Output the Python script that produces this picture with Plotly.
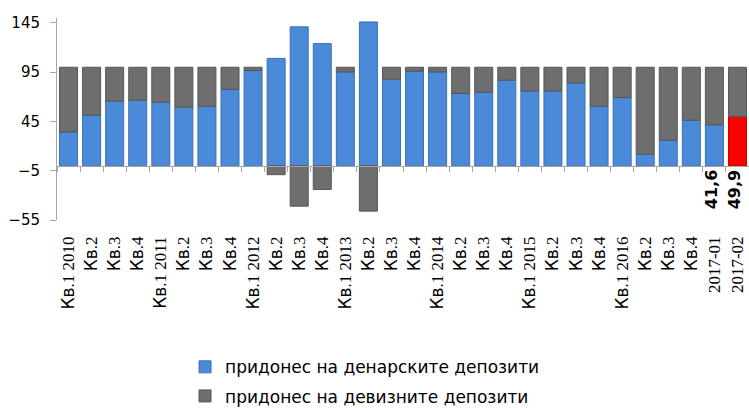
import plotly.graph_objects as go

# Quarterly / monthly periods on the category axis
periods = [
    "Кв.1 2010", "Кв.2 2010", "Кв.3 2010", "Кв.4 2010",
    "Кв.1 2011", "Кв.2 2011", "Кв.3 2011", "Кв.4 2011",
    "Кв.1 2012", "Кв.2 2012", "Кв.3 2012", "Кв.4 2012",
    "Кв.1 2013", "Кв.2 2013", "Кв.3 2013", "Кв.4 2013",
    "Кв.1 2014", "Кв.2 2014", "Кв.3 2014", "Кв.4 2014",
    "Кв.1 2015", "Кв.2 2015", "Кв.3 2015", "Кв.4 2015",
    "Кв.1 2016", "Кв.2 2016", "Кв.3 2016", "Кв.4 2016",
    "2017-01", "2017-02",
]
tick_labels = [
    "Кв.1 2010", "Кв.2", "Кв.3", "Кв.4",
    "Кв.1 2011", "Кв.2", "Кв.3", "Кв.4",
    "Кв.1 2012", "Кв.2", "Кв.3", "Кв.4",
    "Кв.1 2013", "Кв.2", "Кв.3", "Кв.4",
    "Кв.1 2014", "Кв.2", "Кв.3", "Кв.4",
    "Кв.1 2015", "Кв.2", "Кв.3", "Кв.4",
    "Кв.1 2016", "Кв.2", "Кв.3", "Кв.4",
    "2017-01", "2017-02",
]

# Contribution of denar deposits (%)
denar = [34.4, 51.4, 65.6, 66.6, 64.6, 59.5, 60.5, 77.5, 96.7, 109.0,
         141.0, 124.0, 95.3, 146.0, 87.9, 96.0, 95.3, 73.4, 74.7, 86.9,
         76.0, 76.0, 84.2, 60.5, 69.3, 11.8, 26.0, 46.3, 41.6, 49.9]
# Contribution of foreign-currency deposits (%)
foreign = [65.6, 48.6, 34.4, 33.4, 35.4, 40.5, 39.5, 22.5, 3.3, -9.0,
           -41.0, -24.0, 4.7, -46.0, 12.1, 4.0, 4.7, 26.6, 25.3, 13.1,
           24.0, 24.0, 15.8, 39.5, 30.7, 88.2, 74.0, 53.7, 58.4, 50.1]

# Periods whose denar contribution is printed on the chart
labelled = ["2017-01", "2017-02"]

BLUE = "#4A8AD9"
GRAY = "#6E6E6E"
RED = "#FF0000"

denar_colors = [RED if p == "2017-02" else BLUE for p in periods]
denar_lines = ["#C00000" if p == "2017-02" else "#3B6FB3" for p in periods]


def fmt(v):
    return f"{v:.1f}".replace(".", ",")


def tick_text(label):
    # Cyrillic prefix in a sans face, numerals in a serif face
    serif = "<span style='font-family:Liberation Serif'>{}</span>"
    if label.startswith("Кв"):
        return "Кв" + serif.format(label[2:])
    return serif.format(label)


fig = go.Figure()
fig.add_trace(go.Bar(
    x=periods, y=denar, name="придонес на денарските депозити",
    marker=dict(color=denar_colors, line=dict(color=denar_lines, width=1)),
    legendgroup="a",
))
fig.add_trace(go.Bar(
    x=periods, y=foreign, name="придонес на девизните депозити",
    marker=dict(color=GRAY, line=dict(color="#555555", width=1)),
    legendgroup="b",
))
# Carrier for the category line drawn through zero
fig.add_trace(go.Scatter(
    x=periods, y=[None] * len(periods), xaxis="x2", mode="lines",
    showlegend=False, hoverinfo="skip",
))

for p in labelled:
    v = denar[periods.index(p)]
    fig.add_annotation(
        x=p, y=0, text=f"<b>{fmt(v)}</b>", textangle=-90, showarrow=False,
        xshift=-3, yshift=-24,
        font=dict(family="DejaVu Sans", size=16, color="#000000"),
    )

y_lo, y_hi = -55, 150

fig.update_layout(
    width=749, height=408,
    margin=dict(l=57, r=0, t=18, b=188, autoexpand=False),
    paper_bgcolor="white", plot_bgcolor="white",
    barmode="relative", bargap=0.22,
    font=dict(family="DejaVu Sans", size=15, color="#000000"),
    xaxis=dict(
        type="category", categoryorder="array", categoryarray=periods,
        range=[-0.5, len(periods) - 0.5],
        tickmode="array", tickvals=periods,
        ticktext=[tick_text(t) for t in tick_labels],
        tickangle=-90, ticks="", showline=False, showgrid=False,
        ticklabelstandoff=12, automargin=False,
        tickfont=dict(family="DejaVu Sans", size=17, color="#000000"),
    ),
    xaxis2=dict(
        type="category", categoryorder="array", categoryarray=periods,
        range=[-0.5, len(periods) - 0.5],
        overlaying="x", anchor="free",
        position=(0 - y_lo) / (y_hi - y_lo),
        showline=True, linecolor="#A6A6A6", linewidth=1,
        ticks="outside", tickson="boundaries", ticklen=5, tickcolor="#A6A6A6",
        showticklabels=False, showgrid=False,
    ),
    yaxis=dict(
        range=[y_lo, y_hi], tickmode="array",
        tickvals=[-55, -5, 45, 95, 145],
        ticks="outside", ticklen=6, tickcolor="#A6A6A6",
        showline=True, linecolor="#A6A6A6", linewidth=1,
        showgrid=False, zeroline=False, automargin=False,
        ticklabelstandoff=7,
        tickfont=dict(family="DejaVu Sans", size=15, color="#000000"),
    ),
    legend=dict(
        orientation="v", x=0.185, xanchor="left", y=-0.64, yanchor="top",
        traceorder="grouped", tracegroupgap=4,
        font=dict(family="DejaVu Sans", size=17, color="#000000"),
        itemwidth=30,
    ),
    showlegend=True,
)

fig.write_html("out.html")
